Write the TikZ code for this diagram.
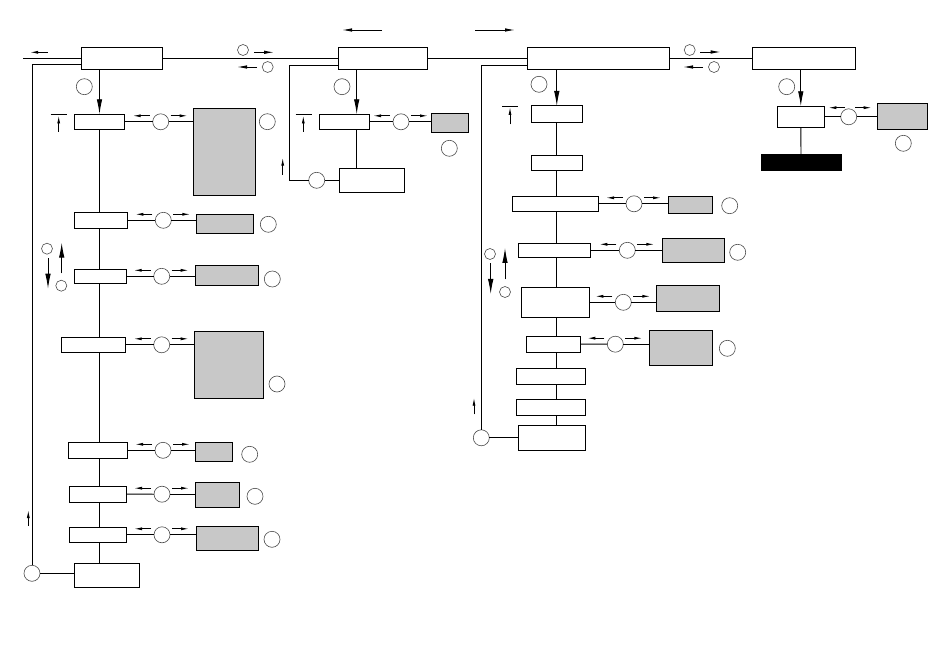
\documentclass[tikz,border=0pt]{standalone}
\usetikzlibrary{arrows.meta,fit,backgrounds}
\definecolor{boxgray}{RGB}{200,200,200}
\newcommand\mybox[4][box]{\node[#1,fit={(#3) (#4)}] (#2) {};}
\newcommand\myconn[3]{%
  \draw[ln] (#1.east) -- (#2.west);
  \draw[ln] (#2.east) -- (#2.east -| #3.west);
  \draw[sarr] ([shift={(-11,-6)}]#2.center) -- ([shift={(-28,-6)}]#2.center);
  \draw[sarr] ([shift={(10,-6)}]#2.center) -- ([shift={(27,-6)}]#2.center);}
\begin{document}
\begin{tikzpicture}[x=1pt,y=-1pt,
  box/.style={draw,line width=1pt,inner sep=0pt,outer sep=0pt,fill=white},
  gbox/.style={box,fill=boxgray},
  kbox/.style={box,fill=black},
  bcirc/.style={circle,draw=black!70,line width=0.6pt,minimum size=16pt,inner sep=0pt,outer sep=0pt,fill=white},
  tcirc/.style={circle,draw=black!70,line width=0.6pt,minimum size=11pt,inner sep=0pt,outer sep=0pt,fill=white},
  ln/.style={line width=0.9pt},
  sarr/.style={line width=0.9pt,-{Latex[length=8pt,width=3pt]}},
  marr/.style={line width=0.9pt,-{Latex[length=10pt,width=3.5pt]}},
  barr/.style={line width=0.9pt,-{Latex[length=15pt,width=5.5pt]}},
]
\useasboundingbox (0,0) rectangle (950,660);
\begin{scope}[on background layer]
  \fill[white] (0,0) rectangle (950,660);
\end{scope}

% ---- top row
\mybox{TB1}{81,47.8}{162,69.3}
\mybox{TB2}{338,47.8}{427.7,69.3}
\mybox{TB3}{527,47.8}{669,69.3}
\mybox{TB4}{752,47.8}{855,69.3}
\coordinate (L0) at (23,58.55);
\node[tcirc] (m1) at (243,50) {};
\node[tcirc] (m2) at (267.7,67) {};
\node[tcirc] (m3) at (689.7,50) {};
\node[tcirc] (m4) at (714,67) {};

% ---- left subtree
\node[bcirc] (n1) at (84.3,86.7) {};
\mybox{A1}{74.3,114.3}{124.7,129.3}
\mybox{A2}{74.3,212.3}{127.3,228.3}
\mybox{A3}{74.3,269.3}{126.7,283.3}
\mybox{A4}{61.3,337.3}{125.7,352.3}
\mybox{A5}{68.3,442.3}{127.3,458.3}
\mybox{A6}{69.3,486}{126.7,502.3}
\mybox{A7}{69.3,527.3}{126.7,542.3}
\mybox{A8}{74.3,563.3}{139.3,587.3}
\node[bcirc] (cA1) at (160.7,121.8) {};
\node[bcirc] (cA2) at (163.3,220.3) {};
\node[bcirc] (cA3) at (161.7,276.3) {};
\node[bcirc] (cA4) at (161.7,344.8) {};
\node[bcirc] (cA5) at (163,450.3) {};
\node[bcirc] (cA6) at (162,494.2) {};
\node[bcirc] (cA7) at (162,534.8) {};
\mybox[gbox]{G1}{193.3,108.3}{255.7,196}
\mybox[gbox]{G2}{196.7,214.3}{253.3,233.3}
\mybox[gbox]{G3}{195.7,265.3}{258.3,285.3}
\mybox[gbox]{G4}{194.3,331}{263.3,398.3}
\mybox[gbox]{G5}{195.3,442.3}{232.7,461.3}
\mybox[gbox]{G6}{195.3,482.3}{239.3,507.3}
\mybox[gbox]{G7}{196.3,526.3}{258.3,550.3}
\node[bcirc] (lG1) at (267.3,121.7) {};
\node[bcirc] (lG2) at (268.3,224.3) {};
\node[bcirc] (lG3) at (272.3,279) {};
\node[bcirc] (lG4) at (277,384) {};
\node[bcirc] (lG5) at (249.7,454.3) {};
\node[bcirc] (lG6) at (255,496.3) {};
\node[bcirc] (lG7) at (272,539.3) {};
\node[tcirc] (sA1) at (47,248.7) {};
\node[tcirc] (sA2) at (61.3,285.7) {};
\node[bcirc] (R1) at (32,573.3) {};

% ---- middle subtree
\coordinate (x2) at (356.7,0);
\node[bcirc] (n2) at (342,86.7) {};
\mybox{B1}{319.3,114.3}{369.3,129.3}
\mybox{B2}{339.3,168.3}{404.3,192.3}
\node[bcirc] (cB1) at (401,121.8) {};
\mybox[gbox]{GB1}{431.7,113.3}{468.3,132.3}
\node[bcirc] (lGB1) at (449.3,148.3) {};
\node[bcirc] (R2) at (316.7,180.3) {};
\coordinate (k2) at (289.3,180.3);

% ---- third subtree
\node[bcirc] (n3) at (539,84.3) {};
\mybox{C1}{531.3,106}{582.3,122.3}
\mybox{C2}{531.3,155.7}{582.3,170.3}
\mybox{C3}{512.3,196.3}{598.3,211.3}
\mybox{C4}{518.3,243.3}{590.7,257.3}
\mybox{C5}{521.3,287.3}{589.3,317.3}
\mybox{C6}{526.3,336}{580.3,352.3}
\mybox{C7}{516.7,368.3}{585.3,384.3}
\mybox{C8}{516.7,399.3}{585.3,415.3}
\mybox{C9}{518.3,425.3}{585.3,450.3}
\node[bcirc] (cC3) at (634,203.8) {};
\node[bcirc] (cC4) at (627.3,250.3) {};
\node[bcirc] (cC5) at (623.3,302.3) {};
\node[bcirc] (cC6) at (615.3,344.2) {};
\mybox[gbox]{GC3}{668.3,196.3}{712.3,213.3}
\mybox[gbox]{GC4}{662.3,238.3}{724.3,262.3}
\mybox[gbox]{GC5}{656,285.3}{719.3,311.3}
\mybox[gbox]{GC6}{649.7,330.3}{712.3,365}
\node[bcirc] (lGC3) at (729.7,205.7) {};
\node[bcirc] (lGC4) at (737.7,252.3) {};
\node[bcirc] (lGC6) at (727.3,348.3) {};
\node[tcirc] (sC1) at (490,254) {};
\node[tcirc] (sC2) at (505,292) {};
\node[bcirc] (R3) at (481.3,437.8) {};

% ---- right subtree
\node[bcirc] (n4) at (786.7,86.7) {};
\mybox{D1}{777.3,106.3}{824.3,127.3}
\node[bcirc] (cD1) at (848.7,116.8) {};
\mybox[gbox]{GD1}{877.3,103.3}{927.3,130}
\node[bcirc] (lGD1) at (903.3,143.3) {};
\mybox[kbox]{BK}{761,155}{841,170.7}

% ================= connectors
\draw[ln] (L0) -- (TB1.west);
\draw[ln] (TB1.east) -- (TB2.west);
\draw[ln] (TB2.east) -- (TB3.west);
\draw[ln] (TB3.east) -- (TB4.west);

% arrows near main line
\draw[marr] (382,30) -- (342,30);
\draw[marr] (475,30) -- (515,30);
\draw[sarr] (47.7,52.3) -- (30,52.3);
\draw[marr] (254,52.3) -- (274,52.3);
\draw[marr] (257,67) -- (237,67);
\draw[marr] (700,52) -- (720.7,52);
\draw[marr] (703,67) -- (683,67);

% left subtree
\begin{scope}[on background layer]
  \draw[ln] (A1.south) -- (A1.south |- A8.north);
  \draw[ln] (B1.south -| x2) -- (B2.north -| x2);
  \draw[ln] (C1.south) -- (C1.south |- C9.north);
\end{scope}
\draw[barr] (TB1.south -| A1.north) -- (A1.north);
\draw[ln] (50.7,114.7) -- (66.7,114.7);
\draw[sarr] (58.7,131.7) -- (58.7,115.5);
\myconn{A1}{cA1}{G1}
\myconn{A2}{cA2}{G2}
\myconn{A3}{cA3}{G3}
\myconn{A4}{cA4}{G4}
\myconn{A5}{cA5}{G5}
\myconn{A6}{cA6}{G6}
\myconn{A7}{cA7}{G7}
\draw[barr] (48,258.3) -- (48,288.7);
\draw[barr] (61.7,273.3) -- (61.7,242.7);
\draw[ln] ([yshift=-5.5pt]TB1.west) -| (R1.north);
\draw[ln] (R1.east) -- (R1.east -| A8.west);
\draw[sarr] (28.3,526) -- (28.3,510);

% middle subtree
\draw[barr] (TB2.south -| x2) -- (B1.north -| x2);
\draw[ln] (295.7,114.7) -- (311.7,114.7);
\draw[sarr] (303.3,131.7) -- (303.3,115.5);
\myconn{B1}{cB1}{GB1}
\draw[ln] ([yshift=-6.5pt]TB2.west) -| (k2) -- (R2.west);
\draw[ln] (R2.east) -- (B2.west);
\draw[sarr] (282.7,175) -- (282.7,157.7);

% third subtree
\draw[barr] (TB3.south -| C1.north) -- (C1.north);
\draw[ln] (502,106.3) -- (518,106.3);
\draw[sarr] (510,124.3) -- (510,107);
\myconn{C3}{cC3}{GC3}
\myconn{C4}{cC4}{GC4}
\myconn{C5}{cC5}{GC5}
\myconn{C6}{cC6}{GC6}
\draw[barr] (490.7,263.3) -- (490.7,294);
\draw[barr] (505,279.3) -- (505,248);
\draw[ln] ([yshift=-7pt]TB3.west) -| (R3.north);
\draw[ln] (R3.east) -- (C9.west);
\draw[sarr] (474,414.3) -- (474,397.7);

% right subtree
\draw[barr] (TB4.south -| D1.north) -- (D1.north);
\draw[ln] (D1.east) -- (cD1.west);
\draw[ln] (cD1.east) -- (cD1.east -| GD1.west);
\draw[sarr] (845,107.7) -- (828.3,107.7);
\draw[sarr] (855,107.7) -- (871.7,107.7);
\draw[ln] (D1.south) -- (BK.north);
\end{tikzpicture}
\end{document}
